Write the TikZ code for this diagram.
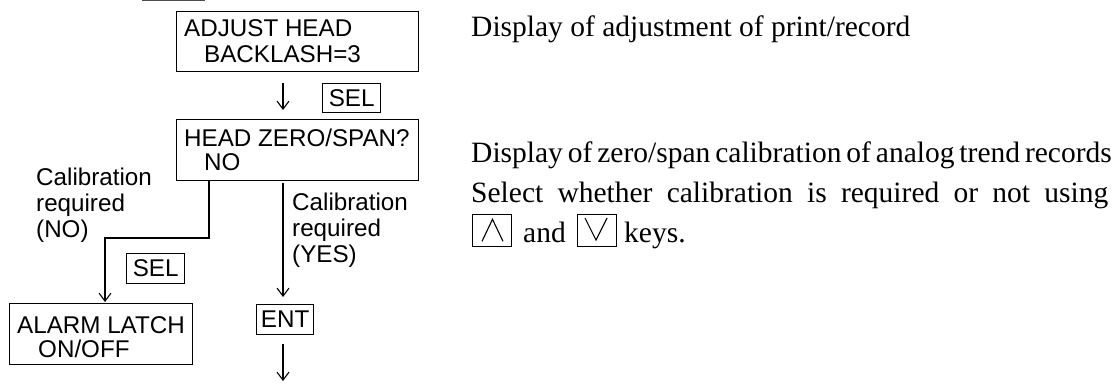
\documentclass[tikz,border=0pt]{standalone}
\usepackage{fontspec}
\setmainfont{Liberation Serif}
\newfontfamily\lsans{Liberation Sans}
\usetikzlibrary{arrows.meta}
\begin{document}
\begin{tikzpicture}[x=1pt,y=-1pt,
  box/.style={draw, line width=1.3pt, rectangle, inner sep=0pt, anchor=north west},
  stxt/.style={font=\lsans\fontsize{24.2}{26}\selectfont, inner sep=0pt, anchor=base west},
  ctxt/.style={font=\lsans\fontsize{24.2}{26}\selectfont, inner sep=0pt},
  rtxt/.style={font=\fontsize{29.5}{36}\selectfont, inner sep=0pt, anchor=base west},
  arr/.style={line width=1.1pt, -{Straight Barb[length=8pt,width=12pt,line width=1.1pt]}},
  glyph/.style={line width=1.1pt, line join=miter}]
\useasboundingbox (0,0) rectangle (1116,383);

% fragment of a cut-off key box at the top edge
\draw[line width=1.2pt, black!70] (142,0.8) -- (205,0.8);

% ADJUST HEAD box
\node[box, minimum width=242pt, minimum height=60pt] (adj) at (176,11) {};
\node[stxt] (adjt1) at (184,36) {ADJUST HEAD};
\node[stxt] (adjt2) at (204,62) {BACKLASH=3};

% arrow + SEL
\coordinate (a1s) at (283,83);
\coordinate (a1e) at (283,110);
\draw[arr] (a1s) -- (a1e);
\node[box, minimum width=58pt, minimum height=29pt] (sel1) at (322,83) {};
\node[ctxt] (sel1t) at (sel1.center) {SEL};

% HEAD ZERO/SPAN? box
\node[box, minimum width=242pt, minimum height=61pt] (zero) at (176,119) {};
\node[stxt] (zerot1) at (184,146) {HEAD ZERO/SPAN?};
\node[stxt] (zerot2) at (204,170) {NO};

% NO branch
\coordinate (nox) at (209,180);
\coordinate (nob1) at (209,238);
\coordinate (nob2) at (105,238);
\node[box, minimum width=183pt, minimum height=61pt] (alarm) at (9,303) {};
\node[stxt] (alarmt1) at (17,333) {ALARM LATCH};
\node[stxt] (alarmt2) at (38,357) {ON/OFF};
\draw[arr, shorten >=1pt] (zero.south -| nox) -- (nob1) -- (nob2) -- (alarm.north -| nob2);
\node[box, minimum width=58pt, minimum height=30pt] (sel2) at (126,253) {};
\node[ctxt] (sel2t) at (sel2.center) {SEL};

\node[stxt] (nol1) at (36,185) {Calibration};
\node[stxt] (nol2) at (36,211) {required};
\node[stxt] (nol3) at (36,237) {(NO)};

% YES branch
\coordinate (yes1) at (283,183);
\coordinate (yes2) at (283,297);
\draw[arr] (yes1) -- (yes2);
\node[stxt] (yesl1) at (292,210) {Calibration};
\node[stxt] (yesl2) at (292,236) {required};
\node[stxt] (yesl3) at (292,262) {(YES)};

\node[box, minimum width=57pt, minimum height=30pt] (ent) at (256,304) {};
\node[ctxt] (entt) at (ent.center) {ENT};
\coordinate (yes3) at (283,344);
\coordinate (yes4) at (283,381);
\draw[arr] (yes3) -- (yes4);

% right-hand descriptions
\node[rtxt] (d1) at (471,36) {Display of adjustment of print/record};
\node[rtxt] (d2) at (471,162) {\makebox[637pt][s]{Display of zero/span calibration of analog trend records}};
\node[rtxt] (d3) at (471,202) {\makebox[637pt][s]{Select whether calibration is required or not using}};

\node[box, minimum width=39pt, minimum height=32pt] (up) at (472,214) {};
\draw[glyph] ([xshift=10pt,yshift=6pt]up.south west) -- ([xshift=20.5pt,yshift=28pt]up.south west) -- ([xshift=31pt,yshift=6pt]up.south west);
\node[rtxt] (and) at (523,242) {and};
\node[box, minimum width=39pt, minimum height=32pt] (down) at (577,214) {};
\draw[glyph] ([xshift=8pt,yshift=-4pt]down.north west) -- ([xshift=19pt,yshift=-26pt]down.north west) -- ([xshift=30pt,yshift=-4pt]down.north west);
\node[rtxt] (keys) at (624,242) {keys.};
\end{tikzpicture}
\end{document}
